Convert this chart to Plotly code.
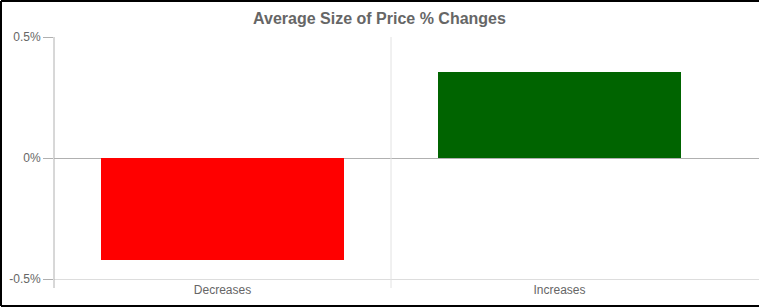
import plotly.graph_objects as go

categories = ["Decreases", "Increases"]
values = [-0.00420, 0.00357]
bar_colors = ["#ff0000", "#006400"]
tick_vals = [-0.005, 0, 0.005]
tick_text = ["-0.5%", "0%", "0.5%"]
title_text = "Average Size of Price % Changes"

W, H = 759, 308
L, R, T, B = 54, 0, 37, 29
pw, ph = W - L - R, H - T - B

def px_to_paper_x(px):
    return (px - L) / pw

def px_to_paper_y(py):
    return (H - B - py) / ph

fig = go.Figure()
fig.add_trace(go.Bar(
    x=categories, y=values,
    marker=dict(color=bar_colors, line=dict(width=0)),
    width=0.724,
    hoverinfo="skip",
))

shapes = []
shapes.append(dict(type="line", xref="x", yref="paper", x0=0.5, x1=0.5,
                   y0=px_to_paper_y(288), y1=1, line=dict(color="#e2e2e2", width=1)))
shapes.append(dict(type="line", xref="paper", yref="paper", x0=0, x1=0,
                   y0=px_to_paper_y(288), y1=1, line=dict(color="#b0b0b0", width=1)))
# outer border: left, top, bottom
bx0, bx1 = px_to_paper_x(1), px_to_paper_x(W + 20)
by0, by1 = px_to_paper_y(306), px_to_paper_y(1)
border = dict(color="#000000", width=2)
shapes.append(dict(type="line", xref="paper", yref="paper", x0=bx0, x1=bx0, y0=by0, y1=by1, line=border))
shapes.append(dict(type="line", xref="paper", yref="paper", x0=bx0, x1=bx1, y0=by1, y1=by1, line=border))
shapes.append(dict(type="line", xref="paper", yref="paper", x0=bx0, x1=bx1, y0=by0, y1=by0, line=border))

fig.update_layout(
    width=W, height=H,
    margin=dict(l=L, r=R, t=T, b=B),
    paper_bgcolor="white", plot_bgcolor="white",
    showlegend=False,
    font=dict(family="Liberation Sans, Arial, sans-serif", size=12, color="#666666"),
    title=dict(text="<b>" + title_text + "</b>", xref="paper", x=(W / 2 - L) / pw,
               xanchor="center", y=1 - 18 / H, yanchor="middle",
               font=dict(size=16, color="#666666", family="Liberation Sans, Arial, sans-serif")),
    shapes=shapes,
    bargap=0,
)

fig.update_xaxes(
    type="category", range=[-0.5, 1.5 + 31 / 337],
    showgrid=False, showline=True, linecolor="#dddddd", linewidth=1,
    ticks="", tickfont=dict(size=12, color="#666666"),
    zeroline=False, fixedrange=True,
)
fig.update_yaxes(
    range=[-0.005, 0.005], tickvals=tick_vals, ticktext=tick_text,
    showgrid=True, gridcolor="#e6e6e6", gridwidth=1,
    zeroline=True, zerolinecolor="#b0b0b0", zerolinewidth=1,
    showline=False, ticks="outside", ticklen=10, tickcolor="#b0b0b0",
    tickfont=dict(size=12, color="#666666"), fixedrange=True,
)

fig.write_html("out.html")
